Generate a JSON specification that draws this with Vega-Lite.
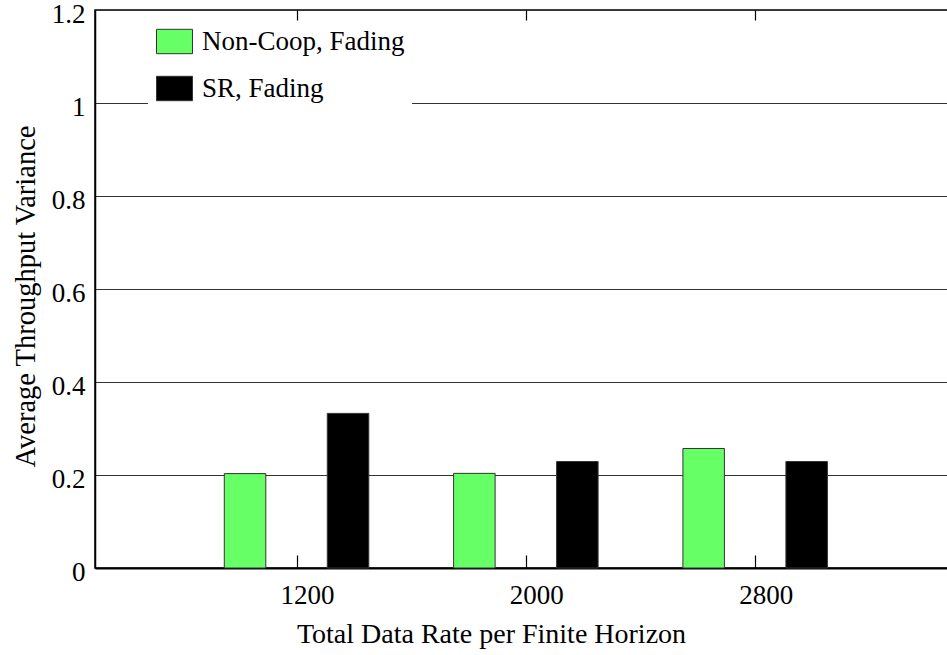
{
  "$schema": "https://vega.github.io/schema/vega-lite/v6.json",
  "autosize": "none",
  "padding": {"left": 95, "top": 10, "right": 0, "bottom": 87},
  "width": 870,
  "height": 558,
  "background": "white",
  "config": {
    "font": "Liberation Serif, Times New Roman, serif",
    "view": {"stroke": "black", "strokeWidth": 1.5},
    "axis": {"labelFont": "Liberation Serif, Times New Roman, serif", "titleFont": "Liberation Serif, Times New Roman, serif", "labelColor": "black", "titleColor": "black", "titleFontWeight": "normal"},
    "legend": {"labelFont": "Liberation Serif, Times New Roman, serif"}
  },
  "data": {
    "values": [
      {"rate": "1200", "series": "Non-Coop, Fading", "value": 0.203},
      {"rate": "1200", "series": "SR, Fading", "value": 0.3325},
      {"rate": "2000", "series": "Non-Coop, Fading", "value": 0.2035},
      {"rate": "2000", "series": "SR, Fading", "value": 0.229},
      {"rate": "2800", "series": "Non-Coop, Fading", "value": 0.257},
      {"rate": "2800", "series": "SR, Fading", "value": 0.229}
    ]
  },
  "encoding": {
    "y": {
      "field": "value",
      "type": "quantitative",
      "scale": {"domain": [0, 1.2], "nice": false},
      "axis": {
        "title": "Average Throughput Variance",
        "titleFontSize": 28.5,
        "titleX": -70,
        "titleY": 286,
        "titleBaseline": "middle",
        "labelFontSize": 27,
        "labelPadding": 10,
        "labelOffset": 4,
        "tickSize": 0,
        "values": [0, 0.2, 0.4, 0.6, 0.8, 1, 1.2],
        "format": "~g",
        "grid": true,
        "gridColor": "#333333",
        "gridWidth": 1,
        "gridOpacity": 1,
        "domainColor": "black",
        "domainWidth": 1.5
      }
    }
  },
  "layer": [
    {
      "mark": {"type": "bar", "stroke": "#333333", "strokeWidth": 1},
      "encoding": {
        "x": {
          "field": "rate",
          "type": "nominal",
          "sort": null,
          "scale": {"paddingInner": 0, "paddingOuter": 0.397, "align": 0.48},
          "axis": {
            "orient": "bottom",
            "title": "Total Data Rate per Finite Horizon",
            "titleFontSize": 28,
            "titleX": 396,
            "titleY": 74,
            "titleBaseline": "alphabetic",
            "labelFontSize": 27,
            "labelAngle": 0,
            "labelOffset": 10.5,
            "labelPadding": 27,
            "tickSize": -13,
            "tickColor": "black",
            "tickWidth": 1.2,
            "domainColor": "black",
            "domainWidth": 2,
            "grid": false
          }
        },
        "xOffset": {
          "field": "series",
          "type": "nominal",
          "scale": {"range": [41.9, 186.4], "paddingInner": 0.597, "paddingOuter": 0}
        },
        "fill": {
          "field": "series",
          "type": "nominal",
          "scale": {"domain": ["Non-Coop, Fading", "SR, Fading"], "range": ["#66ff66", "#000000"]},
          "legend": {
            "title": null,
            "orient": "none",
            "legendX": 53,
            "legendY": 11,
            "fillColor": "white",
            "padding": 7,
            "labelFontSize": 27,
            "labelLimit": 0,
            "labelColor": "black",
            "symbolType": "M-1.475,-1H1.475V1H-1.475Z",
            "symbolSize": 595,
            "symbolStrokeColor": "#333333",
            "symbolStrokeWidth": 1,
            "symbolOffset": 6,
            "labelOffset": 14,
            "rowPadding": 18
          }
        }
      }
    },
    {
      "mark": {"type": "bar", "opacity": 0},
      "encoding": {
        "x": {
          "field": "rate",
          "type": "nominal",
          "sort": null,
          "axis": {
            "orient": "top",
            "title": null,
            "labels": false,
            "domain": false,
            "tickSize": -10,
            "tickColor": "black",
            "tickWidth": 1.2,
            "grid": false
          }
        }
      }
    }
  ],
  "resolve": {"axis": {"x": "independent"}}
}
